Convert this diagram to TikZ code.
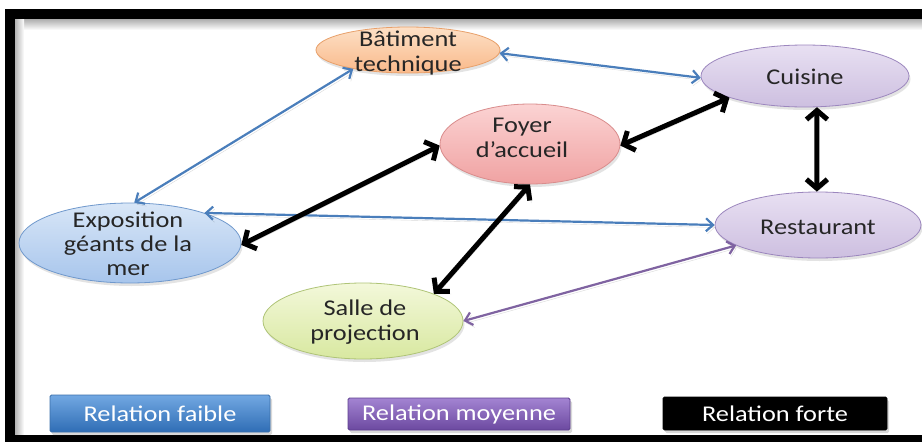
\documentclass[tikz,border=0pt]{standalone}
\usepackage{fontspec}
\setmainfont{Carlito}[FakeStretch=1.17]
\usetikzlibrary{shapes.geometric,arrows.meta,shadows}
\definecolor{weakblue}{HTML}{4A7EBB}
\definecolor{midpurple}{HTML}{7F63A1}
\definecolor{textgray}{HTML}{262626}
\definecolor{orTop}{HTML}{FDE0C6}
\definecolor{orBot}{HTML}{F9B98A}
\definecolor{orLine}{HTML}{E8A06A}
\definecolor{piTop}{HTML}{FBD3D3}
\definecolor{piBot}{HTML}{F0A2A2}
\definecolor{piLine}{HTML}{D98C8C}
\definecolor{laTop}{HTML}{E8E0F2}
\definecolor{laBot}{HTML}{CDBFE0}
\definecolor{laLine}{HTML}{9C87BE}
\definecolor{blTop}{HTML}{D8E6F7}
\definecolor{blBot}{HTML}{A7C5EC}
\definecolor{blLine}{HTML}{6F98CC}
\definecolor{grTop}{HTML}{F3F8DA}
\definecolor{grBot}{HTML}{D8E8A0}
\definecolor{grLine}{HTML}{AFC477}
\definecolor{lbTop}{HTML}{72A8E2}
\definecolor{lbBot}{HTML}{2F6DB5}
\definecolor{lbLine}{HTML}{3A6FAA}
\definecolor{lpTop}{HTML}{A384D2}
\definecolor{lpBot}{HTML}{6C49A0}
\definecolor{lpLine}{HTML}{5E3F8F}
\begin{document}
\begin{tikzpicture}[x=1pt,y=-1pt,
  blob/.style={ellipse, inner sep=0pt, line width=0.8pt,
    drop shadow={shadow xshift=1.5pt, shadow yshift=-3pt, opacity=0.22}},
  lbl/.style={align=center, text=textgray, inner sep=0pt,
    font=\fontsize{22.5}{25}\selectfont},
  legbox/.style={rectangle, rounded corners=1.5pt, inner sep=0pt, line width=0.8pt, text=white,
    font=\fontsize{22.5}{25}\selectfont,
    drop shadow={shadow xshift=2pt, shadow yshift=-3pt, opacity=0.3}},
  arshadow/.style={preaction={draw=black, opacity=0.15,
    transform canvas={xshift=1.5pt, yshift=-2.5pt}}},
  weak/.style={draw=weakblue, line width=2.2pt, arshadow,
    {Straight Barb[length=7pt,width=13pt]}-{Straight Barb[length=7pt,width=13pt]}},
  mid/.style={draw=midpurple, line width=2.2pt, arshadow,
    {Straight Barb[length=7pt,width=13pt]}-{Straight Barb[length=7pt,width=13pt]}},
  strong/.style={draw=black, line width=5pt, arshadow,
    {Straight Barb[length=9pt,width=21pt]}-{Straight Barb[length=9pt,width=21pt]}}
]
\useasboundingbox (0,0) rectangle (922,442);
\clip (0,0) rectangle (922,442);
\fill[white] (0,0) rectangle (922,442);
% inner shadow of the frame
\shade[top color=black!35, bottom color=white] (15,18) rectangle (922,30);
\shade[left color=black!30, right color=white] (15,18) rectangle (24,435);
% frame
\draw[line width=10pt] (10,13.5) rectangle (940,440);

% nodes
\node[blob, minimum width=184pt, minimum height=46pt, top color=orTop, bottom color=orBot, draw=orLine] (bat) at (408,50) {};
\node[lbl] (batT) at (408,53) {Bâtiment\\technique};

\node[blob, minimum width=208pt, minimum height=62pt, top color=laTop, bottom color=laBot, draw=laLine] (cui) at (805,76) {};
\node[lbl] (cuiT) at (805,77) {Cuisine};

\node[blob, minimum width=180pt, minimum height=80pt, top color=piTop, bottom color=piBot, draw=piLine] (foyer) at (530,144) {};
\node[lbl] (foyerT) at (522,138) {Foyer\\d’accueil};

\node[blob, minimum width=206pt, minimum height=66pt, top color=laTop, bottom color=laBot, draw=laLine] (rest) at (818,225) {};
\node[lbl] (restT) at (818,227) {Restaurant};

\node[blob, minimum width=222pt, minimum height=80pt, top color=blTop, bottom color=blBot, draw=blLine] (expo) at (130,243) {};
\node[lbl, font=\fontsize{22.5}{24}\selectfont] (expoT) at (128,244) {Exposition\\géants de la\\mer};

\node[blob, minimum width=200pt, minimum height=76pt, top color=grTop, bottom color=grBot, draw=grLine] (salle) at (363,321) {};
\node[lbl] (salleT) at (365,322) {Salle de\\projection};

% connectors
\draw[weak] (bat.-2) -- (cui.181);
\draw[weak] (bat.199) -- (expo.84);
\draw[weak] (expo.22) -- (rest.180);
\draw[mid] (salle.0) -- (rest.194);
\draw[strong] (expo.-1) -- (foyer.181);
\draw[strong] (foyer.-1) -- (cui.196);
\draw[strong] (foyer.270) -- (salle.21);
\draw[strong] (cui.-69) -- (rest.92);

% legend
\node[legbox, minimum width=220pt, minimum height=37pt, top color=lbTop, bottom color=lbBot, draw=lbLine] (lf) at (160,413.5) {Relation faible};
\node[legbox, minimum width=222pt, minimum height=32pt, top color=lpTop, bottom color=lpBot, draw=lpLine] (lm) at (459,414) {Relation moyenne};
\node[legbox, minimum width=224pt, minimum height=33pt, fill=black, draw=black] (ls) at (775,413.5) {Relation forte};
\end{tikzpicture}
\end{document}
